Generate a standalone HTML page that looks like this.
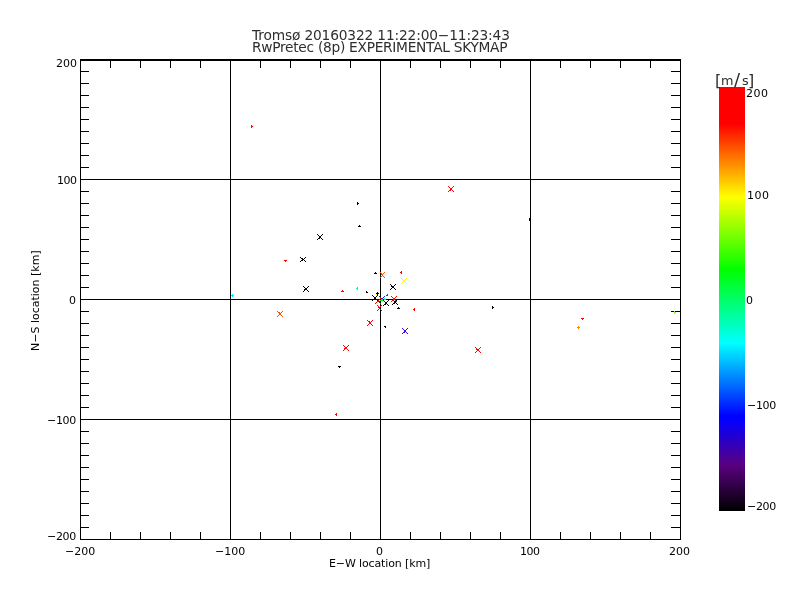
<!DOCTYPE html>
<html><head><meta charset="utf-8"><title>RwPretec skymap</title>
<style>
html,body{margin:0;padding:0;background:#fff;width:800px;height:600px;overflow:hidden}
svg{display:block;will-change:transform}
text{font-family:"DejaVu Sans", "Liberation Sans", sans-serif}
</style></head><body>
<svg width="800" height="600" viewBox="0 0 800 600" shape-rendering="crispEdges">
<rect x="0" y="0" width="800" height="600" fill="#fff"/>
<rect x="230" y="59" width="1" height="481" fill="#000"/><rect x="380" y="59" width="1" height="481" fill="#000"/><rect x="530" y="59" width="1" height="481" fill="#000"/><rect x="80" y="179" width="601" height="1" fill="#000"/><rect x="80" y="299" width="601" height="1" fill="#000"/><rect x="80" y="419" width="601" height="1" fill="#000"/><rect x="80" y="59" width="601" height="2" fill="#000"/><rect x="80" y="539" width="601" height="1" fill="#000"/><rect x="80" y="59" width="1" height="481" fill="#000"/><rect x="680" y="59" width="1" height="481" fill="#000"/><rect x="110" y="59" width="1" height="9" fill="#000"/><rect x="110" y="532" width="1" height="8" fill="#000"/><rect x="140" y="59" width="1" height="9" fill="#000"/><rect x="140" y="532" width="1" height="8" fill="#000"/><rect x="170" y="59" width="1" height="9" fill="#000"/><rect x="170" y="532" width="1" height="8" fill="#000"/><rect x="200" y="59" width="1" height="9" fill="#000"/><rect x="200" y="532" width="1" height="8" fill="#000"/><rect x="260" y="59" width="1" height="9" fill="#000"/><rect x="260" y="532" width="1" height="8" fill="#000"/><rect x="290" y="59" width="1" height="9" fill="#000"/><rect x="290" y="532" width="1" height="8" fill="#000"/><rect x="320" y="59" width="1" height="9" fill="#000"/><rect x="320" y="532" width="1" height="8" fill="#000"/><rect x="350" y="59" width="1" height="9" fill="#000"/><rect x="350" y="532" width="1" height="8" fill="#000"/><rect x="410" y="59" width="1" height="9" fill="#000"/><rect x="410" y="532" width="1" height="8" fill="#000"/><rect x="440" y="59" width="1" height="9" fill="#000"/><rect x="440" y="532" width="1" height="8" fill="#000"/><rect x="470" y="59" width="1" height="9" fill="#000"/><rect x="470" y="532" width="1" height="8" fill="#000"/><rect x="500" y="59" width="1" height="9" fill="#000"/><rect x="500" y="532" width="1" height="8" fill="#000"/><rect x="560" y="59" width="1" height="9" fill="#000"/><rect x="560" y="532" width="1" height="8" fill="#000"/><rect x="590" y="59" width="1" height="9" fill="#000"/><rect x="590" y="532" width="1" height="8" fill="#000"/><rect x="620" y="59" width="1" height="9" fill="#000"/><rect x="620" y="532" width="1" height="8" fill="#000"/><rect x="650" y="59" width="1" height="9" fill="#000"/><rect x="650" y="532" width="1" height="8" fill="#000"/><rect x="80" y="71" width="9" height="1" fill="#000"/><rect x="671" y="71" width="10" height="1" fill="#000"/><rect x="80" y="83" width="9" height="1" fill="#000"/><rect x="671" y="83" width="10" height="1" fill="#000"/><rect x="80" y="95" width="9" height="1" fill="#000"/><rect x="671" y="95" width="10" height="1" fill="#000"/><rect x="80" y="107" width="9" height="1" fill="#000"/><rect x="671" y="107" width="10" height="1" fill="#000"/><rect x="80" y="119" width="9" height="1" fill="#000"/><rect x="671" y="119" width="10" height="1" fill="#000"/><rect x="80" y="131" width="9" height="1" fill="#000"/><rect x="671" y="131" width="10" height="1" fill="#000"/><rect x="80" y="143" width="9" height="1" fill="#000"/><rect x="671" y="143" width="10" height="1" fill="#000"/><rect x="80" y="155" width="9" height="1" fill="#000"/><rect x="671" y="155" width="10" height="1" fill="#000"/><rect x="80" y="167" width="9" height="1" fill="#000"/><rect x="671" y="167" width="10" height="1" fill="#000"/><rect x="80" y="191" width="9" height="1" fill="#000"/><rect x="671" y="191" width="10" height="1" fill="#000"/><rect x="80" y="203" width="9" height="1" fill="#000"/><rect x="671" y="203" width="10" height="1" fill="#000"/><rect x="80" y="215" width="9" height="1" fill="#000"/><rect x="671" y="215" width="10" height="1" fill="#000"/><rect x="80" y="227" width="9" height="1" fill="#000"/><rect x="671" y="227" width="10" height="1" fill="#000"/><rect x="80" y="239" width="9" height="1" fill="#000"/><rect x="671" y="239" width="10" height="1" fill="#000"/><rect x="80" y="251" width="9" height="1" fill="#000"/><rect x="671" y="251" width="10" height="1" fill="#000"/><rect x="80" y="263" width="9" height="1" fill="#000"/><rect x="671" y="263" width="10" height="1" fill="#000"/><rect x="80" y="275" width="9" height="1" fill="#000"/><rect x="671" y="275" width="10" height="1" fill="#000"/><rect x="80" y="287" width="9" height="1" fill="#000"/><rect x="671" y="287" width="10" height="1" fill="#000"/><rect x="80" y="311" width="9" height="1" fill="#000"/><rect x="671" y="311" width="10" height="1" fill="#000"/><rect x="80" y="323" width="9" height="1" fill="#000"/><rect x="671" y="323" width="10" height="1" fill="#000"/><rect x="80" y="335" width="9" height="1" fill="#000"/><rect x="671" y="335" width="10" height="1" fill="#000"/><rect x="80" y="347" width="9" height="1" fill="#000"/><rect x="671" y="347" width="10" height="1" fill="#000"/><rect x="80" y="359" width="9" height="1" fill="#000"/><rect x="671" y="359" width="10" height="1" fill="#000"/><rect x="80" y="371" width="9" height="1" fill="#000"/><rect x="671" y="371" width="10" height="1" fill="#000"/><rect x="80" y="383" width="9" height="1" fill="#000"/><rect x="671" y="383" width="10" height="1" fill="#000"/><rect x="80" y="395" width="9" height="1" fill="#000"/><rect x="671" y="395" width="10" height="1" fill="#000"/><rect x="80" y="407" width="9" height="1" fill="#000"/><rect x="671" y="407" width="10" height="1" fill="#000"/><rect x="80" y="431" width="9" height="1" fill="#000"/><rect x="671" y="431" width="10" height="1" fill="#000"/><rect x="80" y="443" width="9" height="1" fill="#000"/><rect x="671" y="443" width="10" height="1" fill="#000"/><rect x="80" y="455" width="9" height="1" fill="#000"/><rect x="671" y="455" width="10" height="1" fill="#000"/><rect x="80" y="467" width="9" height="1" fill="#000"/><rect x="671" y="467" width="10" height="1" fill="#000"/><rect x="80" y="479" width="9" height="1" fill="#000"/><rect x="671" y="479" width="10" height="1" fill="#000"/><rect x="80" y="491" width="9" height="1" fill="#000"/><rect x="671" y="491" width="10" height="1" fill="#000"/><rect x="80" y="503" width="9" height="1" fill="#000"/><rect x="671" y="503" width="10" height="1" fill="#000"/><rect x="80" y="515" width="9" height="1" fill="#000"/><rect x="671" y="515" width="10" height="1" fill="#000"/><rect x="80" y="527" width="9" height="1" fill="#000"/><rect x="671" y="527" width="10" height="1" fill="#000"/><rect x="448" y="186" width="1" height="1" fill="#ff0000"/><rect x="448" y="191" width="1" height="1" fill="#ff0000"/><rect x="449" y="187" width="1" height="1" fill="#ff0000"/><rect x="449" y="190" width="1" height="1" fill="#ff0000"/><rect x="450" y="188" width="1" height="1" fill="#ff0000"/><rect x="450" y="189" width="1" height="1" fill="#ff0000"/><rect x="450" y="190" width="1" height="1" fill="#ff0000"/><rect x="451" y="188" width="1" height="1" fill="#ff0000"/><rect x="451" y="189" width="1" height="1" fill="#ff0000"/><rect x="452" y="187" width="1" height="1" fill="#ff0000"/><rect x="452" y="190" width="1" height="1" fill="#ff0000"/><rect x="453" y="186" width="1" height="1" fill="#ff0000"/><rect x="453" y="191" width="1" height="1" fill="#ff0000"/><rect x="317" y="234" width="1" height="1" fill="#000000"/><rect x="317" y="239" width="1" height="1" fill="#000000"/><rect x="318" y="235" width="1" height="1" fill="#000000"/><rect x="318" y="238" width="1" height="1" fill="#000000"/><rect x="319" y="236" width="1" height="1" fill="#000000"/><rect x="319" y="237" width="1" height="1" fill="#000000"/><rect x="319" y="238" width="1" height="1" fill="#000000"/><rect x="320" y="236" width="1" height="1" fill="#000000"/><rect x="320" y="237" width="1" height="1" fill="#000000"/><rect x="321" y="235" width="1" height="1" fill="#000000"/><rect x="321" y="238" width="1" height="1" fill="#000000"/><rect x="322" y="234" width="1" height="1" fill="#000000"/><rect x="322" y="239" width="1" height="1" fill="#000000"/><rect x="300" y="257" width="1" height="1" fill="#000000"/><rect x="300" y="261" width="1" height="1" fill="#000000"/><rect x="301" y="258" width="1" height="1" fill="#000000"/><rect x="301" y="260" width="1" height="1" fill="#000000"/><rect x="302" y="258" width="1" height="1" fill="#000000"/><rect x="302" y="259" width="1" height="1" fill="#000000"/><rect x="302" y="260" width="1" height="1" fill="#000000"/><rect x="303" y="259" width="1" height="1" fill="#000000"/><rect x="304" y="258" width="1" height="1" fill="#000000"/><rect x="304" y="260" width="1" height="1" fill="#000000"/><rect x="305" y="257" width="1" height="1" fill="#000000"/><rect x="305" y="261" width="1" height="1" fill="#000000"/><rect x="303" y="286" width="1" height="1" fill="#000000"/><rect x="303" y="291" width="1" height="1" fill="#000000"/><rect x="304" y="287" width="1" height="1" fill="#000000"/><rect x="304" y="289" width="1" height="1" fill="#000000"/><rect x="304" y="290" width="1" height="1" fill="#000000"/><rect x="305" y="288" width="1" height="1" fill="#000000"/><rect x="305" y="289" width="1" height="1" fill="#000000"/><rect x="306" y="288" width="1" height="1" fill="#000000"/><rect x="306" y="289" width="1" height="1" fill="#000000"/><rect x="307" y="287" width="1" height="1" fill="#000000"/><rect x="307" y="290" width="1" height="1" fill="#000000"/><rect x="308" y="286" width="1" height="1" fill="#000000"/><rect x="308" y="291" width="1" height="1" fill="#000000"/><rect x="380" y="272" width="1" height="1" fill="#ff5000"/><rect x="380" y="277" width="1" height="1" fill="#ff5000"/><rect x="381" y="273" width="1" height="1" fill="#ff5000"/><rect x="381" y="274" width="1" height="1" fill="#ff5000"/><rect x="381" y="276" width="1" height="1" fill="#ff5000"/><rect x="382" y="274" width="1" height="1" fill="#ff5000"/><rect x="382" y="275" width="1" height="1" fill="#ff5000"/><rect x="383" y="273" width="1" height="1" fill="#ff5000"/><rect x="383" y="276" width="1" height="1" fill="#ff5000"/><rect x="384" y="272" width="1" height="1" fill="#ff5000"/><rect x="384" y="277" width="1" height="1" fill="#ff5000"/><rect x="401" y="278" width="1" height="1" fill="#ffff00"/><rect x="401" y="283" width="1" height="1" fill="#ffff00"/><rect x="402" y="279" width="1" height="1" fill="#ffff00"/><rect x="402" y="282" width="1" height="1" fill="#ffff00"/><rect x="403" y="280" width="1" height="1" fill="#ffff00"/><rect x="403" y="281" width="1" height="1" fill="#ffff00"/><rect x="403" y="282" width="1" height="1" fill="#ffff00"/><rect x="404" y="280" width="1" height="1" fill="#ffff00"/><rect x="404" y="281" width="1" height="1" fill="#ffff00"/><rect x="405" y="279" width="1" height="1" fill="#ffff00"/><rect x="405" y="282" width="1" height="1" fill="#ffff00"/><rect x="406" y="278" width="1" height="1" fill="#ffff00"/><rect x="406" y="283" width="1" height="1" fill="#ffff00"/><rect x="390" y="284" width="1" height="1" fill="#000000"/><rect x="390" y="289" width="1" height="1" fill="#000000"/><rect x="391" y="285" width="1" height="1" fill="#000000"/><rect x="391" y="286" width="1" height="1" fill="#000000"/><rect x="391" y="288" width="1" height="1" fill="#000000"/><rect x="392" y="286" width="1" height="1" fill="#000000"/><rect x="392" y="287" width="1" height="1" fill="#000000"/><rect x="393" y="286" width="1" height="1" fill="#000000"/><rect x="393" y="287" width="1" height="1" fill="#000000"/><rect x="394" y="285" width="1" height="1" fill="#000000"/><rect x="394" y="288" width="1" height="1" fill="#000000"/><rect x="395" y="284" width="1" height="1" fill="#000000"/><rect x="395" y="289" width="1" height="1" fill="#000000"/><rect x="375" y="298" width="1" height="1" fill="#ff0000"/><rect x="375" y="303" width="1" height="1" fill="#ff0000"/><rect x="376" y="299" width="1" height="1" fill="#ff0000"/><rect x="376" y="302" width="1" height="1" fill="#ff0000"/><rect x="377" y="300" width="1" height="1" fill="#ff0000"/><rect x="377" y="301" width="1" height="1" fill="#ff0000"/><rect x="378" y="300" width="1" height="1" fill="#ff0000"/><rect x="378" y="301" width="1" height="1" fill="#ff0000"/><rect x="379" y="299" width="1" height="1" fill="#ff0000"/><rect x="379" y="302" width="1" height="1" fill="#ff0000"/><rect x="380" y="298" width="1" height="1" fill="#ff0000"/><rect x="380" y="303" width="1" height="1" fill="#ff0000"/><rect x="372" y="295" width="1" height="1" fill="#000000"/><rect x="372" y="300" width="1" height="1" fill="#000000"/><rect x="373" y="296" width="1" height="1" fill="#000000"/><rect x="373" y="299" width="1" height="1" fill="#000000"/><rect x="374" y="297" width="1" height="1" fill="#000000"/><rect x="374" y="298" width="1" height="1" fill="#000000"/><rect x="375" y="297" width="1" height="1" fill="#000000"/><rect x="375" y="298" width="1" height="1" fill="#000000"/><rect x="376" y="296" width="1" height="1" fill="#000000"/><rect x="376" y="299" width="1" height="1" fill="#000000"/><rect x="377" y="295" width="1" height="1" fill="#000000"/><rect x="377" y="300" width="1" height="1" fill="#000000"/><rect x="383" y="300" width="1" height="1" fill="#000000"/><rect x="383" y="305" width="1" height="1" fill="#000000"/><rect x="384" y="301" width="1" height="1" fill="#000000"/><rect x="384" y="304" width="1" height="1" fill="#000000"/><rect x="385" y="302" width="1" height="1" fill="#000000"/><rect x="385" y="303" width="1" height="1" fill="#000000"/><rect x="385" y="304" width="1" height="1" fill="#000000"/><rect x="386" y="302" width="1" height="1" fill="#000000"/><rect x="386" y="303" width="1" height="1" fill="#000000"/><rect x="387" y="301" width="1" height="1" fill="#000000"/><rect x="387" y="304" width="1" height="1" fill="#000000"/><rect x="388" y="300" width="1" height="1" fill="#000000"/><rect x="388" y="305" width="1" height="1" fill="#000000"/><rect x="379" y="296" width="1" height="1" fill="#0020ff"/><rect x="379" y="301" width="1" height="1" fill="#0020ff"/><rect x="380" y="297" width="1" height="1" fill="#0020ff"/><rect x="380" y="300" width="1" height="1" fill="#0020ff"/><rect x="381" y="298" width="1" height="1" fill="#0020ff"/><rect x="381" y="299" width="1" height="1" fill="#0020ff"/><rect x="382" y="298" width="1" height="1" fill="#0020ff"/><rect x="382" y="299" width="1" height="1" fill="#0020ff"/><rect x="383" y="297" width="1" height="1" fill="#0020ff"/><rect x="383" y="300" width="1" height="1" fill="#0020ff"/><rect x="384" y="296" width="1" height="1" fill="#0020ff"/><rect x="384" y="301" width="1" height="1" fill="#0020ff"/><rect x="392" y="299" width="1" height="1" fill="#000000"/><rect x="392" y="304" width="1" height="1" fill="#000000"/><rect x="393" y="300" width="1" height="1" fill="#000000"/><rect x="393" y="303" width="1" height="1" fill="#000000"/><rect x="394" y="301" width="1" height="1" fill="#000000"/><rect x="394" y="302" width="1" height="1" fill="#000000"/><rect x="394" y="303" width="1" height="1" fill="#000000"/><rect x="395" y="301" width="1" height="1" fill="#000000"/><rect x="395" y="302" width="1" height="1" fill="#000000"/><rect x="396" y="300" width="1" height="1" fill="#000000"/><rect x="396" y="303" width="1" height="1" fill="#000000"/><rect x="397" y="299" width="1" height="1" fill="#000000"/><rect x="397" y="304" width="1" height="1" fill="#000000"/><rect x="391" y="296" width="1" height="1" fill="#ff0000"/><rect x="391" y="301" width="1" height="1" fill="#ff0000"/><rect x="392" y="297" width="1" height="1" fill="#ff0000"/><rect x="392" y="300" width="1" height="1" fill="#ff0000"/><rect x="393" y="298" width="1" height="1" fill="#ff0000"/><rect x="393" y="299" width="1" height="1" fill="#ff0000"/><rect x="393" y="300" width="1" height="1" fill="#ff0000"/><rect x="394" y="298" width="1" height="1" fill="#ff0000"/><rect x="394" y="299" width="1" height="1" fill="#ff0000"/><rect x="395" y="297" width="1" height="1" fill="#ff0000"/><rect x="395" y="300" width="1" height="1" fill="#ff0000"/><rect x="396" y="296" width="1" height="1" fill="#ff0000"/><rect x="396" y="301" width="1" height="1" fill="#ff0000"/><rect x="377" y="305" width="1" height="1" fill="#ff0000"/><rect x="377" y="310" width="1" height="1" fill="#ff0000"/><rect x="378" y="306" width="1" height="1" fill="#ff0000"/><rect x="378" y="307" width="1" height="1" fill="#ff0000"/><rect x="378" y="309" width="1" height="1" fill="#ff0000"/><rect x="379" y="307" width="1" height="1" fill="#ff0000"/><rect x="379" y="308" width="1" height="1" fill="#ff0000"/><rect x="380" y="306" width="1" height="1" fill="#ff0000"/><rect x="380" y="309" width="1" height="1" fill="#ff0000"/><rect x="381" y="305" width="1" height="1" fill="#ff0000"/><rect x="381" y="310" width="1" height="1" fill="#ff0000"/><rect x="367" y="320" width="1" height="1" fill="#ff0000"/><rect x="367" y="325" width="1" height="1" fill="#ff0000"/><rect x="368" y="321" width="1" height="1" fill="#ff0000"/><rect x="368" y="324" width="1" height="1" fill="#ff0000"/><rect x="369" y="321" width="1" height="1" fill="#ff0000"/><rect x="369" y="322" width="1" height="1" fill="#ff0000"/><rect x="369" y="323" width="1" height="1" fill="#ff0000"/><rect x="370" y="322" width="1" height="1" fill="#ff0000"/><rect x="370" y="323" width="1" height="1" fill="#ff0000"/><rect x="371" y="321" width="1" height="1" fill="#ff0000"/><rect x="371" y="324" width="1" height="1" fill="#ff0000"/><rect x="372" y="320" width="1" height="1" fill="#ff0000"/><rect x="372" y="325" width="1" height="1" fill="#ff0000"/><rect x="402" y="328" width="1" height="1" fill="#4400e0"/><rect x="402" y="333" width="1" height="1" fill="#4400e0"/><rect x="403" y="329" width="1" height="1" fill="#4400e0"/><rect x="403" y="332" width="1" height="1" fill="#4400e0"/><rect x="404" y="330" width="1" height="1" fill="#4400e0"/><rect x="404" y="331" width="1" height="1" fill="#4400e0"/><rect x="404" y="332" width="1" height="1" fill="#4400e0"/><rect x="405" y="330" width="1" height="1" fill="#4400e0"/><rect x="405" y="331" width="1" height="1" fill="#4400e0"/><rect x="406" y="329" width="1" height="1" fill="#4400e0"/><rect x="406" y="332" width="1" height="1" fill="#4400e0"/><rect x="407" y="328" width="1" height="1" fill="#4400e0"/><rect x="407" y="333" width="1" height="1" fill="#4400e0"/><rect x="277" y="311" width="1" height="1" fill="#ff4800"/><rect x="277" y="316" width="1" height="1" fill="#ff4800"/><rect x="278" y="312" width="1" height="1" fill="#ff4800"/><rect x="278" y="315" width="1" height="1" fill="#ff4800"/><rect x="279" y="312" width="1" height="1" fill="#ff4800"/><rect x="279" y="313" width="1" height="1" fill="#ff4800"/><rect x="279" y="314" width="1" height="1" fill="#ff4800"/><rect x="280" y="313" width="1" height="1" fill="#ff4800"/><rect x="280" y="314" width="1" height="1" fill="#ff4800"/><rect x="281" y="312" width="1" height="1" fill="#ff4800"/><rect x="281" y="315" width="1" height="1" fill="#ff4800"/><rect x="282" y="311" width="1" height="1" fill="#ff4800"/><rect x="282" y="316" width="1" height="1" fill="#ff4800"/><rect x="343" y="345" width="1" height="1" fill="#ff0000"/><rect x="343" y="350" width="1" height="1" fill="#ff0000"/><rect x="344" y="346" width="1" height="1" fill="#ff0000"/><rect x="344" y="348" width="1" height="1" fill="#ff0000"/><rect x="344" y="349" width="1" height="1" fill="#ff0000"/><rect x="345" y="347" width="1" height="1" fill="#ff0000"/><rect x="345" y="348" width="1" height="1" fill="#ff0000"/><rect x="346" y="347" width="1" height="1" fill="#ff0000"/><rect x="346" y="348" width="1" height="1" fill="#ff0000"/><rect x="347" y="346" width="1" height="1" fill="#ff0000"/><rect x="347" y="349" width="1" height="1" fill="#ff0000"/><rect x="348" y="345" width="1" height="1" fill="#ff0000"/><rect x="348" y="350" width="1" height="1" fill="#ff0000"/><rect x="475" y="347" width="1" height="1" fill="#ff0000"/><rect x="475" y="352" width="1" height="1" fill="#ff0000"/><rect x="476" y="348" width="1" height="1" fill="#ff0000"/><rect x="476" y="349" width="1" height="1" fill="#ff0000"/><rect x="476" y="351" width="1" height="1" fill="#ff0000"/><rect x="477" y="349" width="1" height="1" fill="#ff0000"/><rect x="477" y="350" width="1" height="1" fill="#ff0000"/><rect x="478" y="349" width="1" height="1" fill="#ff0000"/><rect x="478" y="350" width="1" height="1" fill="#ff0000"/><rect x="479" y="348" width="1" height="1" fill="#ff0000"/><rect x="479" y="351" width="1" height="1" fill="#ff0000"/><rect x="480" y="347" width="1" height="1" fill="#ff0000"/><rect x="480" y="352" width="1" height="1" fill="#ff0000"/><rect x="251" y="125" width="1" height="1" fill="#ff0000"/><rect x="251" y="126" width="1" height="1" fill="#ff0000"/><rect x="251" y="127" width="1" height="1" fill="#ff0000"/><rect x="252" y="126" width="1" height="1" fill="#ff0000"/><rect x="357" y="202" width="1" height="1" fill="#000000"/><rect x="357" y="203" width="1" height="1" fill="#000000"/><rect x="357" y="204" width="1" height="1" fill="#000000"/><rect x="358" y="203" width="1" height="1" fill="#000000"/><rect x="359" y="225" width="1" height="1" fill="#000000"/><rect x="358" y="226" width="1" height="1" fill="#000000"/><rect x="359" y="226" width="1" height="1" fill="#000000"/><rect x="360" y="226" width="1" height="1" fill="#000000"/><rect x="529" y="218" width="1" height="1" fill="#000000"/><rect x="529" y="219" width="1" height="1" fill="#000000"/><rect x="529" y="220" width="1" height="1" fill="#000000"/><rect x="284" y="260" width="1" height="1" fill="#ff0000"/><rect x="285" y="260" width="1" height="1" fill="#ff0000"/><rect x="286" y="260" width="1" height="1" fill="#ff0000"/><rect x="285" y="261" width="1" height="1" fill="#ff0000"/><rect x="342" y="290" width="1" height="1" fill="#ff0000"/><rect x="341" y="291" width="1" height="1" fill="#ff0000"/><rect x="342" y="291" width="1" height="1" fill="#ff0000"/><rect x="343" y="291" width="1" height="1" fill="#ff0000"/><rect x="375" y="272" width="1" height="1" fill="#000000"/><rect x="374" y="273" width="1" height="1" fill="#000000"/><rect x="375" y="273" width="1" height="1" fill="#000000"/><rect x="376" y="273" width="1" height="1" fill="#000000"/><rect x="401" y="271" width="1" height="1" fill="#ff0000"/><rect x="401" y="272" width="1" height="1" fill="#ff0000"/><rect x="401" y="273" width="1" height="1" fill="#ff0000"/><rect x="400" y="272" width="1" height="1" fill="#ff0000"/><rect x="357" y="287" width="1" height="1" fill="#00ff8c"/><rect x="357" y="288" width="1" height="1" fill="#00ff8c"/><rect x="357" y="289" width="1" height="1" fill="#00ff8c"/><rect x="356" y="288" width="1" height="1" fill="#00ff8c"/><rect x="366" y="291" width="1" height="1" fill="#000000"/><rect x="366" y="292" width="1" height="1" fill="#000000"/><rect x="367" y="292" width="1" height="1" fill="#000000"/><rect x="387" y="294" width="1" height="1" fill="#ff0000"/><rect x="386" y="295" width="1" height="1" fill="#ff0000"/><rect x="387" y="295" width="1" height="1" fill="#ff0000"/><rect x="398" y="307" width="1" height="1" fill="#000000"/><rect x="397" y="308" width="1" height="1" fill="#000000"/><rect x="398" y="308" width="1" height="1" fill="#000000"/><rect x="399" y="308" width="1" height="1" fill="#000000"/><rect x="384" y="326" width="1" height="1" fill="#000000"/><rect x="385" y="326" width="1" height="1" fill="#000000"/><rect x="385" y="327" width="1" height="1" fill="#000000"/><rect x="414" y="308" width="1" height="1" fill="#ff0000"/><rect x="414" y="309" width="1" height="1" fill="#ff0000"/><rect x="414" y="310" width="1" height="1" fill="#ff0000"/><rect x="413" y="309" width="1" height="1" fill="#ff0000"/><rect x="232" y="294" width="1" height="1" fill="#00e6ff"/><rect x="231" y="295" width="1" height="1" fill="#00e6ff"/><rect x="232" y="295" width="1" height="1" fill="#00e6ff"/><rect x="233" y="295" width="1" height="1" fill="#00e6ff"/><rect x="232" y="296" width="1" height="1" fill="#00e6ff"/><rect x="338" y="366" width="1" height="1" fill="#000000"/><rect x="339" y="366" width="1" height="1" fill="#000000"/><rect x="340" y="366" width="1" height="1" fill="#000000"/><rect x="339" y="367" width="1" height="1" fill="#000000"/><rect x="336" y="413" width="1" height="1" fill="#ff0000"/><rect x="336" y="414" width="1" height="1" fill="#ff0000"/><rect x="336" y="415" width="1" height="1" fill="#ff0000"/><rect x="335" y="414" width="1" height="1" fill="#ff0000"/><rect x="492" y="306" width="1" height="1" fill="#000000"/><rect x="492" y="307" width="1" height="1" fill="#000000"/><rect x="492" y="308" width="1" height="1" fill="#000000"/><rect x="493" y="307" width="1" height="1" fill="#000000"/><rect x="581" y="318" width="1" height="1" fill="#ff0000"/><rect x="582" y="318" width="1" height="1" fill="#ff0000"/><rect x="583" y="318" width="1" height="1" fill="#ff0000"/><rect x="582" y="319" width="1" height="1" fill="#ff0000"/><rect x="578" y="326" width="1" height="1" fill="#ff8c00"/><rect x="577" y="327" width="1" height="1" fill="#ff8c00"/><rect x="578" y="327" width="1" height="1" fill="#ff8c00"/><rect x="579" y="327" width="1" height="1" fill="#ff8c00"/><rect x="578" y="328" width="1" height="1" fill="#ff8c00"/><rect x="674" y="311" width="1" height="1" fill="#8cff00"/><rect x="674" y="312" width="1" height="1" fill="#8cff00"/><rect x="674" y="313" width="1" height="1" fill="#8cff00"/><rect x="675" y="312" width="1" height="1" fill="#8cff00"/><rect x="381" y="299" width="1" height="1" fill="#00ff00"/><rect x="382" y="299" width="1" height="1" fill="#00ff00"/><rect x="380" y="300" width="1" height="1" fill="#00ff00"/><rect x="381" y="300" width="1" height="1" fill="#00ff00"/><rect x="382" y="300" width="1" height="1" fill="#00ff00"/><rect x="384" y="298" width="1" height="1" fill="#00ffa0"/><rect x="385" y="299" width="1" height="1" fill="#00ffa0"/><rect x="384" y="299" width="1" height="1" fill="#00ffa0"/><rect x="376" y="294" width="1" height="1" fill="#ffff00"/><rect x="377" y="292" width="1" height="1" fill="#000000"/><rect x="376" y="293" width="1" height="1" fill="#000000"/><rect x="377" y="293" width="1" height="1" fill="#000000"/><rect x="378" y="293" width="1" height="1" fill="#000000"/><rect x="377" y="294" width="1" height="1" fill="#000000"/><rect x="719" y="87" width="26" height="1" fill="rgb(255, 0, 0)"/><rect x="719" y="88" width="26" height="1" fill="rgb(255, 0, 0)"/><rect x="719" y="89" width="26" height="1" fill="rgb(255, 0, 0)"/><rect x="719" y="90" width="26" height="1" fill="rgb(255, 0, 0)"/><rect x="719" y="91" width="26" height="1" fill="rgb(255, 0, 0)"/><rect x="719" y="92" width="26" height="1" fill="rgb(255, 0, 0)"/><rect x="719" y="93" width="26" height="1" fill="rgb(255, 0, 0)"/><rect x="719" y="94" width="26" height="1" fill="rgb(255, 0, 0)"/><rect x="719" y="95" width="26" height="1" fill="rgb(255, 0, 0)"/><rect x="719" y="96" width="26" height="1" fill="rgb(255, 0, 0)"/><rect x="719" y="97" width="26" height="1" fill="rgb(255, 0, 0)"/><rect x="719" y="98" width="26" height="1" fill="rgb(255, 0, 0)"/><rect x="719" y="99" width="26" height="1" fill="rgb(255, 0, 0)"/><rect x="719" y="100" width="26" height="1" fill="rgb(255, 0, 0)"/><rect x="719" y="101" width="26" height="1" fill="rgb(255, 0, 0)"/><rect x="719" y="102" width="26" height="1" fill="rgb(255, 0, 0)"/><rect x="719" y="103" width="26" height="1" fill="rgb(255, 0, 0)"/><rect x="719" y="104" width="26" height="1" fill="rgb(255, 0, 0)"/><rect x="719" y="105" width="26" height="1" fill="rgb(255, 0, 0)"/><rect x="719" y="106" width="26" height="1" fill="rgb(255, 0, 0)"/><rect x="719" y="107" width="26" height="1" fill="rgb(255, 0, 0)"/><rect x="719" y="108" width="26" height="1" fill="rgb(255, 0, 0)"/><rect x="719" y="109" width="26" height="1" fill="rgb(255, 0, 0)"/><rect x="719" y="110" width="26" height="1" fill="rgb(255, 0, 0)"/><rect x="719" y="111" width="26" height="1" fill="rgb(255, 0, 0)"/><rect x="719" y="112" width="26" height="1" fill="rgb(255, 0, 0)"/><rect x="719" y="113" width="26" height="1" fill="rgb(255, 0, 0)"/><rect x="719" y="114" width="26" height="1" fill="rgb(255, 0, 0)"/><rect x="719" y="115" width="26" height="1" fill="rgb(255, 0, 0)"/><rect x="719" y="116" width="26" height="1" fill="rgb(255, 0, 0)"/><rect x="719" y="117" width="26" height="1" fill="rgb(255, 0, 0)"/><rect x="719" y="118" width="26" height="1" fill="rgb(255, 0, 0)"/><rect x="719" y="119" width="26" height="1" fill="rgb(255, 0, 0)"/><rect x="719" y="120" width="26" height="1" fill="rgb(255, 0, 0)"/><rect x="719" y="121" width="26" height="1" fill="rgb(255, 0, 0)"/><rect x="719" y="122" width="26" height="1" fill="rgb(255, 0, 0)"/><rect x="719" y="123" width="26" height="1" fill="rgb(255, 0, 0)"/><rect x="719" y="124" width="26" height="1" fill="rgb(255, 2, 0)"/><rect x="719" y="125" width="26" height="1" fill="rgb(255, 5, 0)"/><rect x="719" y="126" width="26" height="1" fill="rgb(255, 9, 0)"/><rect x="719" y="127" width="26" height="1" fill="rgb(255, 12, 0)"/><rect x="719" y="128" width="26" height="1" fill="rgb(255, 16, 0)"/><rect x="719" y="129" width="26" height="1" fill="rgb(255, 19, 0)"/><rect x="719" y="130" width="26" height="1" fill="rgb(255, 23, 0)"/><rect x="719" y="131" width="26" height="1" fill="rgb(255, 26, 0)"/><rect x="719" y="132" width="26" height="1" fill="rgb(255, 30, 0)"/><rect x="719" y="133" width="26" height="1" fill="rgb(255, 33, 0)"/><rect x="719" y="134" width="26" height="1" fill="rgb(255, 37, 0)"/><rect x="719" y="135" width="26" height="1" fill="rgb(255, 40, 0)"/><rect x="719" y="136" width="26" height="1" fill="rgb(255, 44, 0)"/><rect x="719" y="137" width="26" height="1" fill="rgb(255, 47, 0)"/><rect x="719" y="138" width="26" height="1" fill="rgb(255, 51, 0)"/><rect x="719" y="139" width="26" height="1" fill="rgb(255, 54, 0)"/><rect x="719" y="140" width="26" height="1" fill="rgb(255, 58, 0)"/><rect x="719" y="141" width="26" height="1" fill="rgb(255, 61, 0)"/><rect x="719" y="142" width="26" height="1" fill="rgb(255, 65, 0)"/><rect x="719" y="143" width="26" height="1" fill="rgb(255, 68, 0)"/><rect x="719" y="144" width="26" height="1" fill="rgb(255, 72, 0)"/><rect x="719" y="145" width="26" height="1" fill="rgb(255, 75, 0)"/><rect x="719" y="146" width="26" height="1" fill="rgb(255, 79, 0)"/><rect x="719" y="147" width="26" height="1" fill="rgb(255, 82, 0)"/><rect x="719" y="148" width="26" height="1" fill="rgb(255, 86, 0)"/><rect x="719" y="149" width="26" height="1" fill="rgb(255, 89, 0)"/><rect x="719" y="150" width="26" height="1" fill="rgb(255, 93, 0)"/><rect x="719" y="151" width="26" height="1" fill="rgb(255, 96, 0)"/><rect x="719" y="152" width="26" height="1" fill="rgb(255, 100, 0)"/><rect x="719" y="153" width="26" height="1" fill="rgb(255, 103, 0)"/><rect x="719" y="154" width="26" height="1" fill="rgb(255, 107, 0)"/><rect x="719" y="155" width="26" height="1" fill="rgb(255, 110, 0)"/><rect x="719" y="156" width="26" height="1" fill="rgb(255, 114, 0)"/><rect x="719" y="157" width="26" height="1" fill="rgb(255, 117, 0)"/><rect x="719" y="158" width="26" height="1" fill="rgb(255, 121, 0)"/><rect x="719" y="159" width="26" height="1" fill="rgb(255, 124, 0)"/><rect x="719" y="160" width="26" height="1" fill="rgb(255, 128, 0)"/><rect x="719" y="161" width="26" height="1" fill="rgb(255, 131, 0)"/><rect x="719" y="162" width="26" height="1" fill="rgb(255, 134, 0)"/><rect x="719" y="163" width="26" height="1" fill="rgb(255, 138, 0)"/><rect x="719" y="164" width="26" height="1" fill="rgb(255, 141, 0)"/><rect x="719" y="165" width="26" height="1" fill="rgb(255, 145, 0)"/><rect x="719" y="166" width="26" height="1" fill="rgb(255, 148, 0)"/><rect x="719" y="167" width="26" height="1" fill="rgb(255, 152, 0)"/><rect x="719" y="168" width="26" height="1" fill="rgb(255, 155, 0)"/><rect x="719" y="169" width="26" height="1" fill="rgb(255, 159, 0)"/><rect x="719" y="170" width="26" height="1" fill="rgb(255, 162, 0)"/><rect x="719" y="171" width="26" height="1" fill="rgb(255, 166, 0)"/><rect x="719" y="172" width="26" height="1" fill="rgb(255, 169, 0)"/><rect x="719" y="173" width="26" height="1" fill="rgb(255, 173, 0)"/><rect x="719" y="174" width="26" height="1" fill="rgb(255, 176, 0)"/><rect x="719" y="175" width="26" height="1" fill="rgb(255, 180, 0)"/><rect x="719" y="176" width="26" height="1" fill="rgb(255, 183, 0)"/><rect x="719" y="177" width="26" height="1" fill="rgb(255, 187, 0)"/><rect x="719" y="178" width="26" height="1" fill="rgb(255, 190, 0)"/><rect x="719" y="179" width="26" height="1" fill="rgb(255, 194, 0)"/><rect x="719" y="180" width="26" height="1" fill="rgb(255, 197, 0)"/><rect x="719" y="181" width="26" height="1" fill="rgb(255, 201, 0)"/><rect x="719" y="182" width="26" height="1" fill="rgb(255, 204, 0)"/><rect x="719" y="183" width="26" height="1" fill="rgb(255, 208, 0)"/><rect x="719" y="184" width="26" height="1" fill="rgb(255, 211, 0)"/><rect x="719" y="185" width="26" height="1" fill="rgb(255, 215, 0)"/><rect x="719" y="186" width="26" height="1" fill="rgb(255, 218, 0)"/><rect x="719" y="187" width="26" height="1" fill="rgb(255, 222, 0)"/><rect x="719" y="188" width="26" height="1" fill="rgb(255, 225, 0)"/><rect x="719" y="189" width="26" height="1" fill="rgb(255, 229, 0)"/><rect x="719" y="190" width="26" height="1" fill="rgb(255, 232, 0)"/><rect x="719" y="191" width="26" height="1" fill="rgb(255, 236, 0)"/><rect x="719" y="192" width="26" height="1" fill="rgb(255, 239, 0)"/><rect x="719" y="193" width="26" height="1" fill="rgb(255, 243, 0)"/><rect x="719" y="194" width="26" height="1" fill="rgb(255, 246, 0)"/><rect x="719" y="195" width="26" height="1" fill="rgb(255, 250, 0)"/><rect x="719" y="196" width="26" height="1" fill="rgb(255, 253, 0)"/><rect x="719" y="197" width="26" height="1" fill="rgb(253, 255, 0)"/><rect x="719" y="198" width="26" height="1" fill="rgb(250, 255, 0)"/><rect x="719" y="199" width="26" height="1" fill="rgb(246, 255, 0)"/><rect x="719" y="200" width="26" height="1" fill="rgb(243, 255, 0)"/><rect x="719" y="201" width="26" height="1" fill="rgb(239, 255, 0)"/><rect x="719" y="202" width="26" height="1" fill="rgb(236, 255, 0)"/><rect x="719" y="203" width="26" height="1" fill="rgb(232, 255, 0)"/><rect x="719" y="204" width="26" height="1" fill="rgb(229, 255, 0)"/><rect x="719" y="205" width="26" height="1" fill="rgb(225, 255, 0)"/><rect x="719" y="206" width="26" height="1" fill="rgb(222, 255, 0)"/><rect x="719" y="207" width="26" height="1" fill="rgb(218, 255, 0)"/><rect x="719" y="208" width="26" height="1" fill="rgb(215, 255, 0)"/><rect x="719" y="209" width="26" height="1" fill="rgb(211, 255, 0)"/><rect x="719" y="210" width="26" height="1" fill="rgb(208, 255, 0)"/><rect x="719" y="211" width="26" height="1" fill="rgb(204, 255, 0)"/><rect x="719" y="212" width="26" height="1" fill="rgb(201, 255, 0)"/><rect x="719" y="213" width="26" height="1" fill="rgb(197, 255, 0)"/><rect x="719" y="214" width="26" height="1" fill="rgb(194, 255, 0)"/><rect x="719" y="215" width="26" height="1" fill="rgb(190, 255, 0)"/><rect x="719" y="216" width="26" height="1" fill="rgb(187, 255, 0)"/><rect x="719" y="217" width="26" height="1" fill="rgb(183, 255, 0)"/><rect x="719" y="218" width="26" height="1" fill="rgb(180, 255, 0)"/><rect x="719" y="219" width="26" height="1" fill="rgb(176, 255, 0)"/><rect x="719" y="220" width="26" height="1" fill="rgb(173, 255, 0)"/><rect x="719" y="221" width="26" height="1" fill="rgb(169, 255, 0)"/><rect x="719" y="222" width="26" height="1" fill="rgb(166, 255, 0)"/><rect x="719" y="223" width="26" height="1" fill="rgb(162, 255, 0)"/><rect x="719" y="224" width="26" height="1" fill="rgb(159, 255, 0)"/><rect x="719" y="225" width="26" height="1" fill="rgb(155, 255, 0)"/><rect x="719" y="226" width="26" height="1" fill="rgb(152, 255, 0)"/><rect x="719" y="227" width="26" height="1" fill="rgb(148, 255, 0)"/><rect x="719" y="228" width="26" height="1" fill="rgb(145, 255, 0)"/><rect x="719" y="229" width="26" height="1" fill="rgb(141, 255, 0)"/><rect x="719" y="230" width="26" height="1" fill="rgb(138, 255, 0)"/><rect x="719" y="231" width="26" height="1" fill="rgb(134, 255, 0)"/><rect x="719" y="232" width="26" height="1" fill="rgb(131, 255, 0)"/><rect x="719" y="233" width="26" height="1" fill="rgb(128, 255, 0)"/><rect x="719" y="234" width="26" height="1" fill="rgb(124, 255, 0)"/><rect x="719" y="235" width="26" height="1" fill="rgb(121, 255, 0)"/><rect x="719" y="236" width="26" height="1" fill="rgb(117, 255, 0)"/><rect x="719" y="237" width="26" height="1" fill="rgb(114, 255, 0)"/><rect x="719" y="238" width="26" height="1" fill="rgb(110, 255, 0)"/><rect x="719" y="239" width="26" height="1" fill="rgb(107, 255, 0)"/><rect x="719" y="240" width="26" height="1" fill="rgb(103, 255, 0)"/><rect x="719" y="241" width="26" height="1" fill="rgb(100, 255, 0)"/><rect x="719" y="242" width="26" height="1" fill="rgb(96, 255, 0)"/><rect x="719" y="243" width="26" height="1" fill="rgb(93, 255, 0)"/><rect x="719" y="244" width="26" height="1" fill="rgb(89, 255, 0)"/><rect x="719" y="245" width="26" height="1" fill="rgb(86, 255, 0)"/><rect x="719" y="246" width="26" height="1" fill="rgb(82, 255, 0)"/><rect x="719" y="247" width="26" height="1" fill="rgb(79, 255, 0)"/><rect x="719" y="248" width="26" height="1" fill="rgb(75, 255, 0)"/><rect x="719" y="249" width="26" height="1" fill="rgb(72, 255, 0)"/><rect x="719" y="250" width="26" height="1" fill="rgb(68, 255, 0)"/><rect x="719" y="251" width="26" height="1" fill="rgb(65, 255, 0)"/><rect x="719" y="252" width="26" height="1" fill="rgb(61, 255, 0)"/><rect x="719" y="253" width="26" height="1" fill="rgb(58, 255, 0)"/><rect x="719" y="254" width="26" height="1" fill="rgb(54, 255, 0)"/><rect x="719" y="255" width="26" height="1" fill="rgb(51, 255, 0)"/><rect x="719" y="256" width="26" height="1" fill="rgb(47, 255, 0)"/><rect x="719" y="257" width="26" height="1" fill="rgb(44, 255, 0)"/><rect x="719" y="258" width="26" height="1" fill="rgb(40, 255, 0)"/><rect x="719" y="259" width="26" height="1" fill="rgb(37, 255, 0)"/><rect x="719" y="260" width="26" height="1" fill="rgb(33, 255, 0)"/><rect x="719" y="261" width="26" height="1" fill="rgb(30, 255, 0)"/><rect x="719" y="262" width="26" height="1" fill="rgb(26, 255, 0)"/><rect x="719" y="263" width="26" height="1" fill="rgb(23, 255, 0)"/><rect x="719" y="264" width="26" height="1" fill="rgb(19, 255, 0)"/><rect x="719" y="265" width="26" height="1" fill="rgb(16, 255, 0)"/><rect x="719" y="266" width="26" height="1" fill="rgb(12, 255, 0)"/><rect x="719" y="267" width="26" height="1" fill="rgb(9, 255, 0)"/><rect x="719" y="268" width="26" height="1" fill="rgb(5, 255, 0)"/><rect x="719" y="269" width="26" height="1" fill="rgb(2, 255, 0)"/><rect x="719" y="270" width="26" height="1" fill="rgb(0, 255, 2)"/><rect x="719" y="271" width="26" height="1" fill="rgb(0, 255, 5)"/><rect x="719" y="272" width="26" height="1" fill="rgb(0, 255, 9)"/><rect x="719" y="273" width="26" height="1" fill="rgb(0, 255, 12)"/><rect x="719" y="274" width="26" height="1" fill="rgb(0, 255, 16)"/><rect x="719" y="275" width="26" height="1" fill="rgb(0, 255, 19)"/><rect x="719" y="276" width="26" height="1" fill="rgb(0, 255, 23)"/><rect x="719" y="277" width="26" height="1" fill="rgb(0, 255, 26)"/><rect x="719" y="278" width="26" height="1" fill="rgb(0, 255, 30)"/><rect x="719" y="279" width="26" height="1" fill="rgb(0, 255, 33)"/><rect x="719" y="280" width="26" height="1" fill="rgb(0, 255, 37)"/><rect x="719" y="281" width="26" height="1" fill="rgb(0, 255, 40)"/><rect x="719" y="282" width="26" height="1" fill="rgb(0, 255, 44)"/><rect x="719" y="283" width="26" height="1" fill="rgb(0, 255, 47)"/><rect x="719" y="284" width="26" height="1" fill="rgb(0, 255, 51)"/><rect x="719" y="285" width="26" height="1" fill="rgb(0, 255, 54)"/><rect x="719" y="286" width="26" height="1" fill="rgb(0, 255, 58)"/><rect x="719" y="287" width="26" height="1" fill="rgb(0, 255, 61)"/><rect x="719" y="288" width="26" height="1" fill="rgb(0, 255, 65)"/><rect x="719" y="289" width="26" height="1" fill="rgb(0, 255, 68)"/><rect x="719" y="290" width="26" height="1" fill="rgb(0, 255, 72)"/><rect x="719" y="291" width="26" height="1" fill="rgb(0, 255, 75)"/><rect x="719" y="292" width="26" height="1" fill="rgb(0, 255, 79)"/><rect x="719" y="293" width="26" height="1" fill="rgb(0, 255, 82)"/><rect x="719" y="294" width="26" height="1" fill="rgb(0, 255, 86)"/><rect x="719" y="295" width="26" height="1" fill="rgb(0, 255, 89)"/><rect x="719" y="296" width="26" height="1" fill="rgb(0, 255, 93)"/><rect x="719" y="297" width="26" height="1" fill="rgb(0, 255, 96)"/><rect x="719" y="298" width="26" height="1" fill="rgb(0, 255, 100)"/><rect x="719" y="299" width="26" height="1" fill="rgb(0, 255, 103)"/><rect x="719" y="300" width="26" height="1" fill="rgb(0, 255, 107)"/><rect x="719" y="301" width="26" height="1" fill="rgb(0, 255, 110)"/><rect x="719" y="302" width="26" height="1" fill="rgb(0, 255, 114)"/><rect x="719" y="303" width="26" height="1" fill="rgb(0, 255, 117)"/><rect x="719" y="304" width="26" height="1" fill="rgb(0, 255, 121)"/><rect x="719" y="305" width="26" height="1" fill="rgb(0, 255, 124)"/><rect x="719" y="306" width="26" height="1" fill="rgb(0, 255, 128)"/><rect x="719" y="307" width="26" height="1" fill="rgb(0, 255, 131)"/><rect x="719" y="308" width="26" height="1" fill="rgb(0, 255, 134)"/><rect x="719" y="309" width="26" height="1" fill="rgb(0, 255, 138)"/><rect x="719" y="310" width="26" height="1" fill="rgb(0, 255, 141)"/><rect x="719" y="311" width="26" height="1" fill="rgb(0, 255, 145)"/><rect x="719" y="312" width="26" height="1" fill="rgb(0, 255, 148)"/><rect x="719" y="313" width="26" height="1" fill="rgb(0, 255, 152)"/><rect x="719" y="314" width="26" height="1" fill="rgb(0, 255, 155)"/><rect x="719" y="315" width="26" height="1" fill="rgb(0, 255, 159)"/><rect x="719" y="316" width="26" height="1" fill="rgb(0, 255, 162)"/><rect x="719" y="317" width="26" height="1" fill="rgb(0, 255, 166)"/><rect x="719" y="318" width="26" height="1" fill="rgb(0, 255, 169)"/><rect x="719" y="319" width="26" height="1" fill="rgb(0, 255, 173)"/><rect x="719" y="320" width="26" height="1" fill="rgb(0, 255, 176)"/><rect x="719" y="321" width="26" height="1" fill="rgb(0, 255, 180)"/><rect x="719" y="322" width="26" height="1" fill="rgb(0, 255, 183)"/><rect x="719" y="323" width="26" height="1" fill="rgb(0, 255, 187)"/><rect x="719" y="324" width="26" height="1" fill="rgb(0, 255, 190)"/><rect x="719" y="325" width="26" height="1" fill="rgb(0, 255, 194)"/><rect x="719" y="326" width="26" height="1" fill="rgb(0, 255, 197)"/><rect x="719" y="327" width="26" height="1" fill="rgb(0, 255, 201)"/><rect x="719" y="328" width="26" height="1" fill="rgb(0, 255, 204)"/><rect x="719" y="329" width="26" height="1" fill="rgb(0, 255, 208)"/><rect x="719" y="330" width="26" height="1" fill="rgb(0, 255, 211)"/><rect x="719" y="331" width="26" height="1" fill="rgb(0, 255, 215)"/><rect x="719" y="332" width="26" height="1" fill="rgb(0, 255, 218)"/><rect x="719" y="333" width="26" height="1" fill="rgb(0, 255, 222)"/><rect x="719" y="334" width="26" height="1" fill="rgb(0, 255, 225)"/><rect x="719" y="335" width="26" height="1" fill="rgb(0, 255, 229)"/><rect x="719" y="336" width="26" height="1" fill="rgb(0, 255, 232)"/><rect x="719" y="337" width="26" height="1" fill="rgb(0, 255, 236)"/><rect x="719" y="338" width="26" height="1" fill="rgb(0, 255, 239)"/><rect x="719" y="339" width="26" height="1" fill="rgb(0, 255, 243)"/><rect x="719" y="340" width="26" height="1" fill="rgb(0, 255, 246)"/><rect x="719" y="341" width="26" height="1" fill="rgb(0, 255, 250)"/><rect x="719" y="342" width="26" height="1" fill="rgb(0, 255, 253)"/><rect x="719" y="343" width="26" height="1" fill="rgb(0, 253, 255)"/><rect x="719" y="344" width="26" height="1" fill="rgb(0, 250, 255)"/><rect x="719" y="345" width="26" height="1" fill="rgb(0, 246, 255)"/><rect x="719" y="346" width="26" height="1" fill="rgb(0, 243, 255)"/><rect x="719" y="347" width="26" height="1" fill="rgb(0, 239, 255)"/><rect x="719" y="348" width="26" height="1" fill="rgb(0, 236, 255)"/><rect x="719" y="349" width="26" height="1" fill="rgb(0, 232, 255)"/><rect x="719" y="350" width="26" height="1" fill="rgb(0, 229, 255)"/><rect x="719" y="351" width="26" height="1" fill="rgb(0, 225, 255)"/><rect x="719" y="352" width="26" height="1" fill="rgb(0, 222, 255)"/><rect x="719" y="353" width="26" height="1" fill="rgb(0, 218, 255)"/><rect x="719" y="354" width="26" height="1" fill="rgb(0, 215, 255)"/><rect x="719" y="355" width="26" height="1" fill="rgb(0, 211, 255)"/><rect x="719" y="356" width="26" height="1" fill="rgb(0, 208, 255)"/><rect x="719" y="357" width="26" height="1" fill="rgb(0, 204, 255)"/><rect x="719" y="358" width="26" height="1" fill="rgb(0, 201, 255)"/><rect x="719" y="359" width="26" height="1" fill="rgb(0, 197, 255)"/><rect x="719" y="360" width="26" height="1" fill="rgb(0, 194, 255)"/><rect x="719" y="361" width="26" height="1" fill="rgb(0, 190, 255)"/><rect x="719" y="362" width="26" height="1" fill="rgb(0, 187, 255)"/><rect x="719" y="363" width="26" height="1" fill="rgb(0, 183, 255)"/><rect x="719" y="364" width="26" height="1" fill="rgb(0, 180, 255)"/><rect x="719" y="365" width="26" height="1" fill="rgb(0, 176, 255)"/><rect x="719" y="366" width="26" height="1" fill="rgb(0, 173, 255)"/><rect x="719" y="367" width="26" height="1" fill="rgb(0, 169, 255)"/><rect x="719" y="368" width="26" height="1" fill="rgb(0, 166, 255)"/><rect x="719" y="369" width="26" height="1" fill="rgb(0, 162, 255)"/><rect x="719" y="370" width="26" height="1" fill="rgb(0, 159, 255)"/><rect x="719" y="371" width="26" height="1" fill="rgb(0, 155, 255)"/><rect x="719" y="372" width="26" height="1" fill="rgb(0, 152, 255)"/><rect x="719" y="373" width="26" height="1" fill="rgb(0, 148, 255)"/><rect x="719" y="374" width="26" height="1" fill="rgb(0, 145, 255)"/><rect x="719" y="375" width="26" height="1" fill="rgb(0, 141, 255)"/><rect x="719" y="376" width="26" height="1" fill="rgb(0, 138, 255)"/><rect x="719" y="377" width="26" height="1" fill="rgb(0, 134, 255)"/><rect x="719" y="378" width="26" height="1" fill="rgb(0, 131, 255)"/><rect x="719" y="379" width="26" height="1" fill="rgb(0, 128, 255)"/><rect x="719" y="380" width="26" height="1" fill="rgb(0, 124, 255)"/><rect x="719" y="381" width="26" height="1" fill="rgb(0, 121, 255)"/><rect x="719" y="382" width="26" height="1" fill="rgb(0, 117, 255)"/><rect x="719" y="383" width="26" height="1" fill="rgb(0, 114, 255)"/><rect x="719" y="384" width="26" height="1" fill="rgb(0, 110, 255)"/><rect x="719" y="385" width="26" height="1" fill="rgb(0, 107, 255)"/><rect x="719" y="386" width="26" height="1" fill="rgb(0, 103, 255)"/><rect x="719" y="387" width="26" height="1" fill="rgb(0, 100, 255)"/><rect x="719" y="388" width="26" height="1" fill="rgb(0, 96, 255)"/><rect x="719" y="389" width="26" height="1" fill="rgb(0, 93, 255)"/><rect x="719" y="390" width="26" height="1" fill="rgb(0, 89, 255)"/><rect x="719" y="391" width="26" height="1" fill="rgb(0, 86, 255)"/><rect x="719" y="392" width="26" height="1" fill="rgb(0, 82, 255)"/><rect x="719" y="393" width="26" height="1" fill="rgb(0, 79, 255)"/><rect x="719" y="394" width="26" height="1" fill="rgb(0, 75, 255)"/><rect x="719" y="395" width="26" height="1" fill="rgb(0, 72, 255)"/><rect x="719" y="396" width="26" height="1" fill="rgb(0, 68, 255)"/><rect x="719" y="397" width="26" height="1" fill="rgb(0, 65, 255)"/><rect x="719" y="398" width="26" height="1" fill="rgb(0, 61, 255)"/><rect x="719" y="399" width="26" height="1" fill="rgb(0, 58, 255)"/><rect x="719" y="400" width="26" height="1" fill="rgb(0, 54, 255)"/><rect x="719" y="401" width="26" height="1" fill="rgb(0, 51, 255)"/><rect x="719" y="402" width="26" height="1" fill="rgb(0, 47, 255)"/><rect x="719" y="403" width="26" height="1" fill="rgb(0, 44, 255)"/><rect x="719" y="404" width="26" height="1" fill="rgb(0, 40, 255)"/><rect x="719" y="405" width="26" height="1" fill="rgb(0, 37, 255)"/><rect x="719" y="406" width="26" height="1" fill="rgb(0, 33, 255)"/><rect x="719" y="407" width="26" height="1" fill="rgb(0, 30, 255)"/><rect x="719" y="408" width="26" height="1" fill="rgb(0, 26, 255)"/><rect x="719" y="409" width="26" height="1" fill="rgb(0, 23, 255)"/><rect x="719" y="410" width="26" height="1" fill="rgb(0, 19, 255)"/><rect x="719" y="411" width="26" height="1" fill="rgb(0, 16, 255)"/><rect x="719" y="412" width="26" height="1" fill="rgb(0, 12, 255)"/><rect x="719" y="413" width="26" height="1" fill="rgb(0, 9, 255)"/><rect x="719" y="414" width="26" height="1" fill="rgb(0, 5, 255)"/><rect x="719" y="415" width="26" height="1" fill="rgb(0, 2, 255)"/><rect x="719" y="416" width="26" height="1" fill="rgb(0, 0, 255)"/><rect x="719" y="417" width="26" height="1" fill="rgb(0, 0, 255)"/><rect x="719" y="418" width="26" height="1" fill="rgb(0, 0, 255)"/><rect x="719" y="419" width="26" height="1" fill="rgb(1, 0, 255)"/><rect x="719" y="420" width="26" height="1" fill="rgb(3, 0, 254)"/><rect x="719" y="421" width="26" height="1" fill="rgb(5, 0, 251)"/><rect x="719" y="422" width="26" height="1" fill="rgb(7, 0, 248)"/><rect x="719" y="423" width="26" height="1" fill="rgb(9, 0, 245)"/><rect x="719" y="424" width="26" height="1" fill="rgb(11, 0, 242)"/><rect x="719" y="425" width="26" height="1" fill="rgb(13, 0, 240)"/><rect x="719" y="426" width="26" height="1" fill="rgb(15, 0, 237)"/><rect x="719" y="427" width="26" height="1" fill="rgb(17, 0, 234)"/><rect x="719" y="428" width="26" height="1" fill="rgb(19, 0, 231)"/><rect x="719" y="429" width="26" height="1" fill="rgb(21, 0, 228)"/><rect x="719" y="430" width="26" height="1" fill="rgb(22, 0, 226)"/><rect x="719" y="431" width="26" height="1" fill="rgb(24, 0, 223)"/><rect x="719" y="432" width="26" height="1" fill="rgb(26, 0, 220)"/><rect x="719" y="433" width="26" height="1" fill="rgb(28, 0, 217)"/><rect x="719" y="434" width="26" height="1" fill="rgb(30, 0, 214)"/><rect x="719" y="435" width="26" height="1" fill="rgb(32, 0, 212)"/><rect x="719" y="436" width="26" height="1" fill="rgb(34, 0, 209)"/><rect x="719" y="437" width="26" height="1" fill="rgb(36, 0, 206)"/><rect x="719" y="438" width="26" height="1" fill="rgb(38, 0, 203)"/><rect x="719" y="439" width="26" height="1" fill="rgb(40, 0, 200)"/><rect x="719" y="440" width="26" height="1" fill="rgb(42, 0, 198)"/><rect x="719" y="441" width="26" height="1" fill="rgb(44, 0, 195)"/><rect x="719" y="442" width="26" height="1" fill="rgb(46, 0, 192)"/><rect x="719" y="443" width="26" height="1" fill="rgb(48, 0, 189)"/><rect x="719" y="444" width="26" height="1" fill="rgb(50, 0, 186)"/><rect x="719" y="445" width="26" height="1" fill="rgb(52, 0, 184)"/><rect x="719" y="446" width="26" height="1" fill="rgb(54, 0, 181)"/><rect x="719" y="447" width="26" height="1" fill="rgb(56, 0, 178)"/><rect x="719" y="448" width="26" height="1" fill="rgb(58, 0, 175)"/><rect x="719" y="449" width="26" height="1" fill="rgb(60, 0, 172)"/><rect x="719" y="450" width="26" height="1" fill="rgb(62, 0, 170)"/><rect x="719" y="451" width="26" height="1" fill="rgb(64, 0, 167)"/><rect x="719" y="452" width="26" height="1" fill="rgb(66, 0, 164)"/><rect x="719" y="453" width="26" height="1" fill="rgb(68, 0, 161)"/><rect x="719" y="454" width="26" height="1" fill="rgb(69, 0, 158)"/><rect x="719" y="455" width="26" height="1" fill="rgb(71, 0, 156)"/><rect x="719" y="456" width="26" height="1" fill="rgb(73, 0, 153)"/><rect x="719" y="457" width="26" height="1" fill="rgb(75, 0, 150)"/><rect x="719" y="458" width="26" height="1" fill="rgb(77, 0, 147)"/><rect x="719" y="459" width="26" height="1" fill="rgb(79, 0, 144)"/><rect x="719" y="460" width="26" height="1" fill="rgb(81, 0, 142)"/><rect x="719" y="461" width="26" height="1" fill="rgb(83, 0, 139)"/><rect x="719" y="462" width="26" height="1" fill="rgb(85, 0, 136)"/><rect x="719" y="463" width="26" height="1" fill="rgb(87, 0, 133)"/><rect x="719" y="464" width="26" height="1" fill="rgb(89, 0, 130)"/><rect x="719" y="465" width="26" height="1" fill="rgb(89, 0, 128)"/><rect x="719" y="466" width="26" height="1" fill="rgb(87, 0, 125)"/><rect x="719" y="467" width="26" height="1" fill="rgb(85, 0, 122)"/><rect x="719" y="468" width="26" height="1" fill="rgb(83, 0, 119)"/><rect x="719" y="469" width="26" height="1" fill="rgb(81, 0, 116)"/><rect x="719" y="470" width="26" height="1" fill="rgb(79, 0, 113)"/><rect x="719" y="471" width="26" height="1" fill="rgb(77, 0, 111)"/><rect x="719" y="472" width="26" height="1" fill="rgb(75, 0, 108)"/><rect x="719" y="473" width="26" height="1" fill="rgb(73, 0, 105)"/><rect x="719" y="474" width="26" height="1" fill="rgb(71, 0, 102)"/><rect x="719" y="475" width="26" height="1" fill="rgb(69, 0, 99)"/><rect x="719" y="476" width="26" height="1" fill="rgb(68, 0, 97)"/><rect x="719" y="477" width="26" height="1" fill="rgb(66, 0, 94)"/><rect x="719" y="478" width="26" height="1" fill="rgb(64, 0, 91)"/><rect x="719" y="479" width="26" height="1" fill="rgb(62, 0, 88)"/><rect x="719" y="480" width="26" height="1" fill="rgb(60, 0, 85)"/><rect x="719" y="481" width="26" height="1" fill="rgb(58, 0, 83)"/><rect x="719" y="482" width="26" height="1" fill="rgb(56, 0, 80)"/><rect x="719" y="483" width="26" height="1" fill="rgb(54, 0, 77)"/><rect x="719" y="484" width="26" height="1" fill="rgb(52, 0, 74)"/><rect x="719" y="485" width="26" height="1" fill="rgb(50, 0, 71)"/><rect x="719" y="486" width="26" height="1" fill="rgb(48, 0, 69)"/><rect x="719" y="487" width="26" height="1" fill="rgb(46, 0, 66)"/><rect x="719" y="488" width="26" height="1" fill="rgb(44, 0, 63)"/><rect x="719" y="489" width="26" height="1" fill="rgb(42, 0, 60)"/><rect x="719" y="490" width="26" height="1" fill="rgb(40, 0, 57)"/><rect x="719" y="491" width="26" height="1" fill="rgb(38, 0, 55)"/><rect x="719" y="492" width="26" height="1" fill="rgb(36, 0, 52)"/><rect x="719" y="493" width="26" height="1" fill="rgb(34, 0, 49)"/><rect x="719" y="494" width="26" height="1" fill="rgb(32, 0, 46)"/><rect x="719" y="495" width="26" height="1" fill="rgb(30, 0, 43)"/><rect x="719" y="496" width="26" height="1" fill="rgb(28, 0, 41)"/><rect x="719" y="497" width="26" height="1" fill="rgb(26, 0, 38)"/><rect x="719" y="498" width="26" height="1" fill="rgb(24, 0, 35)"/><rect x="719" y="499" width="26" height="1" fill="rgb(22, 0, 32)"/><rect x="719" y="500" width="26" height="1" fill="rgb(21, 0, 29)"/><rect x="719" y="501" width="26" height="1" fill="rgb(19, 0, 27)"/><rect x="719" y="502" width="26" height="1" fill="rgb(17, 0, 24)"/><rect x="719" y="503" width="26" height="1" fill="rgb(15, 0, 21)"/><rect x="719" y="504" width="26" height="1" fill="rgb(13, 0, 18)"/><rect x="719" y="505" width="26" height="1" fill="rgb(11, 0, 15)"/><rect x="719" y="506" width="26" height="1" fill="rgb(9, 0, 13)"/><rect x="719" y="507" width="26" height="1" fill="rgb(7, 0, 10)"/><rect x="719" y="508" width="26" height="1" fill="rgb(5, 0, 7)"/><rect x="719" y="509" width="26" height="1" fill="rgb(3, 0, 4)"/><rect x="719" y="510" width="26" height="1" fill="rgb(1, 0, 1)"/><text x="252" y="40" font-size="13.75" letter-spacing="-0.156" fill="#2e2e2e">Tromsø 20160322 11:22:00−11:23:43</text><text x="252" y="52" font-size="13.75" letter-spacing="-0.281" fill="#2e2e2e">RwPretec (8p) EXPERIMENTAL SKYMAP</text><text x="65" y="555" font-size="11">−200</text><text x="215" y="555" font-size="11">−100</text><text x="376" y="555" font-size="11">0</text><text x="520" y="555" font-size="11" letter-spacing="-0.5">100</text><text x="669" y="555" font-size="11">200</text><text x="329" y="567" font-size="11" letter-spacing="-0.125">E−W location [km]</text><text x="56" y="67" font-size="11">200</text><text x="57" y="184" font-size="11" letter-spacing="-0.5">100</text><text x="69" y="304" font-size="11">0</text><text x="47" y="424" font-size="11" letter-spacing="-0.333">−100</text><text x="47" y="540" font-size="11" letter-spacing="-0.333">−200</text><text x="746" y="97" font-size="11" letter-spacing="0.5">200</text><text x="747" y="199" font-size="11" letter-spacing="0.5">100</text><text x="746" y="304" font-size="11">0</text><text x="747" y="409" font-size="11" letter-spacing="-0.333">−100</text><text x="747" y="510" font-size="11" letter-spacing="-0.333">−200</text><text fill="#2e2e2e"><tspan x="715" y="86" font-size="16">[</tspan><tspan x="721" y="85" font-size="12.8">m</tspan><tspan x="734" y="86" font-size="18">/</tspan><tspan x="742" y="85" font-size="12.8">s</tspan><tspan x="748" y="86" font-size="16">]</tspan></text><text transform="translate(39 0) rotate(-90)" x="-351" y="0" font-size="11">N−S location [km]</text>
</svg>
</body></html>
